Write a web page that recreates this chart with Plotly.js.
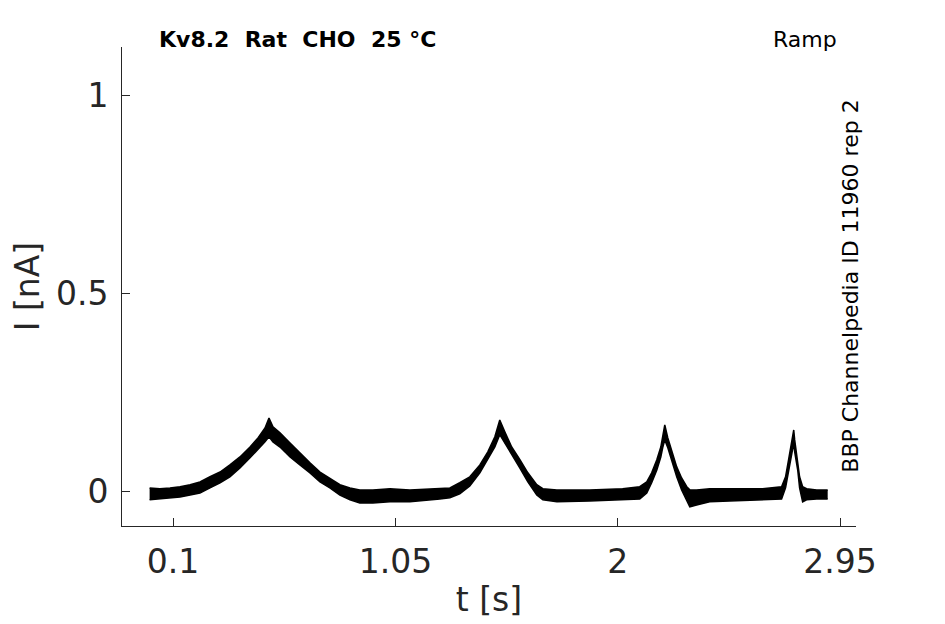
<!DOCTYPE html>
<html>
<head>
<meta charset="utf-8">
<script src="https://cdn.plot.ly/plotly-3.0.1.min.js"></script>
<style>
  html, body { margin: 0; padding: 0; background: #fff; }
  #chart { width: 945px; height: 624px; }
</style>
</head>
<body>
<div id="chart"></div>
<script>
// Time points (s)
const tPoints = [
  0.000, 0.044, 0.087, 0.130, 0.173, 0.215, 0.258, 0.301, 0.343, 0.386,
  0.429, 0.463, 0.493, 0.510, 0.527, 0.557, 0.600, 0.642, 0.685, 0.728,
  0.770, 0.813, 0.856, 0.898, 0.954, 1.027, 1.112, 1.240, 1.283, 1.325,
  1.368, 1.411, 1.445, 1.475, 1.496, 1.518, 1.547, 1.582, 1.616, 1.654,
  1.680, 1.740, 1.880, 2.021, 2.094, 2.124, 2.145, 2.167, 2.184, 2.192,
  2.201, 2.214, 2.231, 2.252, 2.273, 2.295, 2.308, 2.337, 2.393, 2.478,
  2.619, 2.700, 2.717, 2.730, 2.743, 2.752, 2.756, 2.769, 2.777, 2.790,
  2.807, 2.850, 2.897
];
// Upper edge of the overlaid noisy sweeps (nA)
const currentUpper = [
  0.010, 0.008, 0.010, 0.013, 0.018, 0.025, 0.038, 0.050, 0.068, 0.088,
  0.113, 0.136, 0.161, 0.186, 0.164, 0.149, 0.123, 0.098, 0.073, 0.050,
  0.035, 0.018, 0.010, 0.005, 0.005, 0.008, 0.005, 0.008, 0.010, 0.023,
  0.038, 0.068, 0.101, 0.139, 0.181, 0.151, 0.113, 0.081, 0.048, 0.018,
  0.008, 0.005, 0.005, 0.008, 0.013, 0.025, 0.048, 0.081, 0.113, 0.139,
  0.169, 0.136, 0.101, 0.063, 0.035, 0.013, 0.005, 0.005, 0.008, 0.008,
  0.008, 0.013, 0.038, 0.081, 0.123, 0.156, 0.131, 0.081, 0.038, 0.013,
  0.008, 0.005, 0.005
];
// Lower edge of the overlaid noisy sweeps (nA)
const currentLower = [
  -0.020, -0.018, -0.015, -0.013, -0.008, -0.003, 0.010, 0.023, 0.038, 0.060,
  0.086, 0.106, 0.126, 0.139, 0.126, 0.113, 0.088, 0.068, 0.048, 0.025,
  0.010, -0.008, -0.020, -0.028, -0.028, -0.025, -0.025, -0.018, -0.015, -0.005,
  0.015, 0.048, 0.081, 0.113, 0.144, 0.123, 0.093, 0.060, 0.025, -0.008,
  -0.020, -0.025, -0.023, -0.020, -0.018, -0.003, 0.023, 0.055, 0.088, 0.111,
  0.131, 0.111, 0.076, 0.038, 0.005, -0.025, -0.038, -0.033, -0.025, -0.023,
  -0.020, -0.018, 0.010, 0.050, 0.088, 0.123, 0.101, 0.055, 0.010, -0.025,
  -0.020, -0.018, -0.018
];
const xTicks = [0.1, 1.05, 2, 2.95];
const xTickText = ["0.1", "1.05", "2", "2.95"];
const yTicks = [0, 0.5, 1];
const yTickText = ["0", "0.5", "1"];

const FONT = "DejaVu Sans, sans-serif";
const INK = "#262626";

const traces = [
  {
    x: tPoints,
    y: currentLower,
    mode: "lines",
    line: { color: "#000", width: 1.5 },
    hoverinfo: "skip",
    showlegend: false,
  },
  {
    x: tPoints,
    y: currentUpper,
    mode: "lines",
    line: { color: "#000", width: 1.5 },
    fill: "tonexty",
    fillcolor: "#000",
    hoverinfo: "skip",
    showlegend: false,
  },
];

const layout = {
  width: 945,
  height: 624,
  paper_bgcolor: "#fff",
  plot_bgcolor: "#fff",
  margin: { l: 122, r: 89, t: 47, b: 98 },
  font: { family: FONT, color: INK, size: 33 },
  showlegend: false,
  xaxis: {
    range: [-0.118, 3.018],
    tickvals: xTicks,
    ticktext: xTickText,
    ticks: "inside",
    ticklen: 8,
    tickcolor: INK,
    tickfont: { family: FONT, size: 33, color: INK },
    ticklabelstandoff: 6,
    showline: true,
    linecolor: INK,
    linewidth: 1,
    mirror: false,
    showgrid: false,
    zeroline: false,
    title: { text: "t [s]", font: { family: FONT, size: 33, color: INK }, standoff: 8 },
  },
  yaxis: {
    range: [-0.086, 1.121],
    tickvals: yTicks,
    ticktext: yTickText,
    ticks: "inside",
    ticklen: 8,
    tickcolor: INK,
    tickfont: { family: FONT, size: 33, color: INK },
    ticklabelstandoff: 6,
    showline: true,
    linecolor: INK,
    linewidth: 1,
    mirror: false,
    showgrid: false,
    zeroline: false,
    title: { text: "I [nA]", font: { family: FONT, size: 33, color: INK }, standoff: 6 },
  },
  annotations: [
    {
      text: "<b>Kv8.2  Rat  CHO  25 °C</b>",
      xref: "paper", yref: "paper",
      x: 0.048, y: 1.015,
      xanchor: "left", yanchor: "middle",
      showarrow: false,
      font: { family: FONT, size: 22, color: "#000" },
    },
    {
      text: "Ramp",
      xref: "paper", yref: "paper",
      x: 0.977, y: 1.015,
      xanchor: "right", yanchor: "middle",
      showarrow: false,
      font: { family: FONT, size: 22, color: "#000" },
    },
    {
      text: "BBP Channelpedia ID 11960 rep 2",
      xref: "paper", yref: "paper",
      x: 0.992, y: 0.5,
      xanchor: "center", yanchor: "middle",
      textangle: -90,
      showarrow: false,
      font: { family: FONT, size: 22, color: "#000" },
    },
  ],
};

Plotly.newPlot("chart", traces, layout, { staticPlot: true, displayModeBar: false });
</script>
</body>
</html>
